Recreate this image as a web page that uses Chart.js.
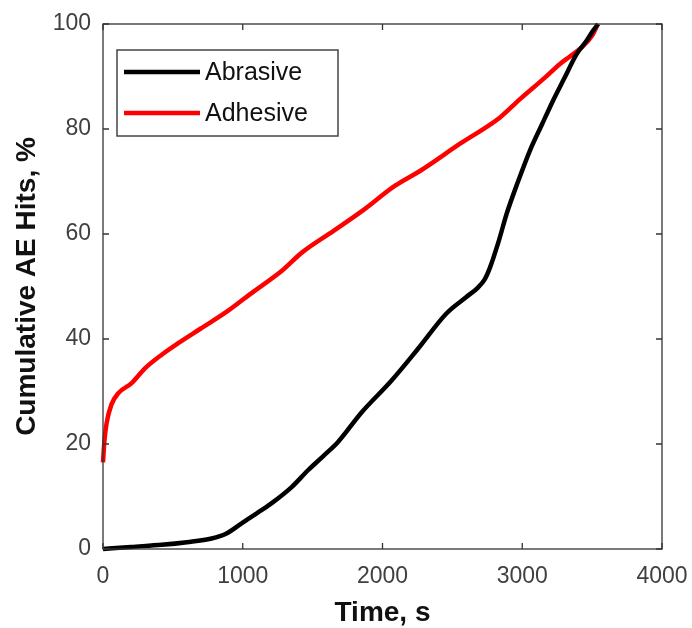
<!DOCTYPE html>
<html>
<head>
<meta charset="utf-8">
<script src="https://cdn.jsdelivr.net/npm/chart.js@4.4.1/dist/chart.umd.min.js"></script>
<style>
  html, body { margin: 0; padding: 0; background: #fff; }
  #wrap { width: 692px; height: 628px; }
</style>
</head>
<body>
<div id="wrap"><canvas id="myChart" width="692" height="628"></canvas></div>
<script>
// values
const abrasiveTime = [0, 200, 420, 600, 777, 880, 992, 1100, 1200, 1350, 1467, 1580, 1682, 1850, 2065, 2250, 2459, 2600, 2683, 2730, 2769, 2830, 2889, 2970, 3055, 3140, 3220, 3300, 3390, 3460, 3506, 3542];
const abrasiveHits = [0, 0.4, 0.8, 1.3, 2.0, 2.9, 4.9, 6.8, 8.6, 11.8, 15, 17.8, 20.4, 26, 32.1, 38, 44.9, 48, 49.8, 51.3, 53.6, 58.5, 63.9, 70, 75.9, 80.8, 85.4, 89.6, 94.3, 96.8, 98.7, 100];

const adhesiveTime = [0, 10, 26, 60, 110, 205, 300, 420, 538, 700, 896, 1050, 1280, 1425, 1650, 1855, 2090, 2268, 2555, 2841, 2984, 3150, 3270, 3350, 3435, 3500, 3542];
const adhesiveHits = [16.5, 20.5, 24, 27.5, 29.7, 31.6, 34.4, 37, 39.2, 42, 45.4, 48.5, 53, 56.5, 60.6, 64.4, 69.2, 72, 77.2, 82.2, 85.7, 89.5, 92.4, 94, 95.8, 97.8, 100];

const seriesNames = ['Abrasive', 'Adhesive'];
const seriesColors = ['#000000', '#ff0000'];
const xTicks = [0, 1000, 2000, 3000, 4000];
const yTicks = [0, 20, 40, 60, 80, 100];

const toPoints = (xs, ys) => xs.map((x, i) => ({ x: x, y: ys[i] }));

const FONT = '"Liberation Sans", Arial, sans-serif';
const AXIS_COLOR = '#333333';

// box round the plot, inward ticks, and the legend box
const framePlugin = {
    id: 'frame',
    afterDatasetsDraw(chart) {
        const { ctx, chartArea: a, scales } = chart;
        ctx.save();
        ctx.strokeStyle = AXIS_COLOR;
        ctx.lineWidth = 1.3;
        ctx.strokeRect(a.left, a.top, a.right - a.left, a.bottom - a.top);

        const len = 6;
        ctx.beginPath();
        xTicks.forEach(v => {
            const px = scales.x.getPixelForValue(v);
            ctx.moveTo(px, a.bottom); ctx.lineTo(px, a.bottom - len);
            ctx.moveTo(px, a.top); ctx.lineTo(px, a.top + len);
        });
        yTicks.forEach(v => {
            const py = scales.y.getPixelForValue(v);
            ctx.moveTo(a.left, py); ctx.lineTo(a.left + len, py);
            ctx.moveTo(a.right, py); ctx.lineTo(a.right - len, py);
        });
        ctx.stroke();

        // legend
        const lx = a.left + 14, ly = a.top + 26, lw = 221, lh = 86;
        ctx.fillStyle = '#ffffff';
        ctx.fillRect(lx, ly, lw, lh);
        ctx.strokeStyle = '#444444';
        ctx.lineWidth = 1.5;
        ctx.strokeRect(lx, ly, lw, lh);

        ctx.font = '25px ' + FONT;
        ctx.textBaseline = 'middle';
        chart.data.datasets.forEach((ds, i) => {
            const y = ly + 22 + i * 41;
            ctx.strokeStyle = ds.borderColor;
            ctx.lineWidth = 4.5;
            ctx.beginPath();
            ctx.moveTo(lx + 7, y);
            ctx.lineTo(lx + 83, y);
            ctx.stroke();
            ctx.fillStyle = '#111111';
            ctx.fillText(ds.label, lx + 88, y + 1);
        });
        ctx.restore();
    }
};

const ctx = document.getElementById('myChart').getContext('2d');

const myChart = new Chart(ctx, {
    type: 'line',
    data: {
        datasets: [
            {
                label: seriesNames[0],
                data: toPoints(abrasiveTime, abrasiveHits),
                borderColor: seriesColors[0],
                borderWidth: 4.5,
                pointRadius: 0,
                cubicInterpolationMode: 'monotone',
                fill: false
            },
            {
                label: seriesNames[1],
                data: toPoints(adhesiveTime, adhesiveHits),
                borderColor: seriesColors[1],
                borderWidth: 4.5,
                pointRadius: 0,
                cubicInterpolationMode: 'monotone',
                fill: false
            }
        ]
    },
    options: {
        responsive: false,
        animation: false,
        clip: false,
        layout: { padding: { top: 24, right: 30, bottom: 0, left: 0 } },
        plugins: {
            legend: { display: false },
            tooltip: { enabled: false }
        },
        scales: {
            x: {
                type: 'linear',
                min: 0,
                max: 4000,
                afterBuildTicks: scale => { scale.ticks = xTicks.map(v => ({ value: v })); },
                afterFit: scale => { scale.height = 79; scale.paddingRight = 0; scale.paddingLeft = 0; },
                grid: { display: false, drawTicks: false },
                border: { display: false },
                ticks: {
                    padding: 14,
                    color: '#404040',
                    font: { family: FONT, size: 23 },
                    maxRotation: 0,
                    callback: v => String(v)
                },
                title: {
                    display: true,
                    text: 'Time, s',
                    color: '#111111',
                    font: { family: FONT, size: 28, weight: 'bold', lineHeight: 1 },
                    padding: { top: 0, bottom: 1 }
                }
            },
            y: {
                min: 0,
                max: 100,
                afterBuildTicks: scale => { scale.ticks = yTicks.map(v => ({ value: v })); },
                afterFit: scale => { scale.width = 103; scale.paddingTop = 0; scale.paddingBottom = 0; },
                grid: { display: false, drawTicks: false },
                border: { display: false },
                ticks: {
                    padding: 12,
                    color: '#404040',
                    font: { family: FONT, size: 23 },
                    callback: v => String(v)
                },
                title: {
                    display: true,
                    text: 'Cumulative AE Hits, %',
                    color: '#111111',
                    font: { family: FONT, size: 28, weight: 'bold' },
                    padding: { top: 10, bottom: 0 }
                }
            }
        }
    },
    plugins: [framePlugin]
});
</script>
</body>
</html>
